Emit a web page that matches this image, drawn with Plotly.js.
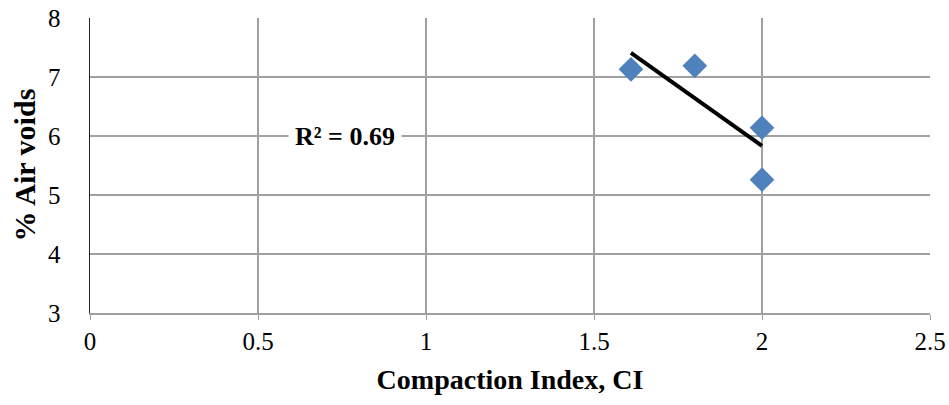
<!DOCTYPE html>
<html>
<head>
<meta charset="utf-8">
<script src="https://cdn.plot.ly/plotly-3.0.1.min.js"></script>
<style>html,body{margin:0;padding:0;background:#fff;}#chart{width:949px;height:405px;}</style>
</head>
<body>
<div id="chart"></div>
<script>
const compactionIndex = [1.61, 1.80, 2.00, 2.00];
const airVoids = [7.13, 7.19, 6.14, 5.26];
const xTickVals = [0, 0.5, 1, 1.5, 2, 2.5];
const xTickText = ['0', '0.5', '1', '1.5', '2', '2.5'];
const yTickVals = [3, 4, 5, 6, 7, 8];
const yTickText = ['3', '4', '5', '6', '7', '8'];
const xTitle = 'Compaction Index, CI';
const yTitle = '% Air voids';
const rSquaredLabel = 'R² = 0.69';
const rSquaredPos = [0.76, 6.0];

// linear least-squares trendline from the data
const n = compactionIndex.length;
const mx = compactionIndex.reduce((a, b) => a + b, 0) / n;
const my = airVoids.reduce((a, b) => a + b, 0) / n;
let sxy = 0, sxx = 0;
for (let i = 0; i < n; i++) {
  sxy += (compactionIndex[i] - mx) * (airVoids[i] - my);
  sxx += (compactionIndex[i] - mx) ** 2;
}
const slope = sxy / sxx;
const intercept = my - slope * mx;
const xMin = Math.min(...compactionIndex), xMax = Math.max(...compactionIndex);
const trendX = [xMin, xMax];
const trendY = trendX.map(x => intercept + slope * x);

const font = 'Liberation Serif, Times New Roman, serif';

const data = [
  {
    x: trendX, y: trendY, type: 'scatter', mode: 'lines',
    line: {color: '#000000', width: 4}, hoverinfo: 'skip', showlegend: false
  },
  {
    x: compactionIndex, y: airVoids, type: 'scatter', mode: 'markers',
    marker: {symbol: 'diamond', size: 19, color: '#4F81BD'}, showlegend: false
  }
];

const layout = {
  width: 949, height: 405,
  margin: {l: 90, r: 19, t: 18, b: 92},
  paper_bgcolor: '#ffffff', plot_bgcolor: '#ffffff',
  font: {family: font, color: '#000000'},
  xaxis: {
    range: [0, 2.5], tickmode: 'array', tickvals: xTickVals, ticktext: xTickText,
    showgrid: true, gridcolor: '#a0a0a0', gridwidth: 1.3,
    zeroline: false, showline: true, linecolor: '#a0a0a0', linewidth: 1.8,
    ticks: 'outside', ticklen: 5, tickcolor: '#a0a0a0',
    tickfont: {family: font, size: 25, color: '#000'},
    title: {text: '<b>' + xTitle + '</b>', font: {family: font, size: 28, color: '#000'}, standoff: 16},
    automargin: false, fixedrange: true
  },
  yaxis: {
    range: [3, 8], tickmode: 'array', tickvals: yTickVals, ticktext: yTickText,
    showgrid: true, gridcolor: '#a0a0a0', gridwidth: 1.3,
    zeroline: false, showline: true, linecolor: '#222222', linewidth: 1.5,
    ticks: 'outside', ticklen: 23, tickcolor: 'rgba(255,255,255,0)',
    tickfont: {family: font, size: 25, color: '#000'},
    automargin: false, fixedrange: true
  },
  yaxis2: {
    range: [3, 8], overlaying: 'y', side: 'left', tickmode: 'array', tickvals: yTickVals,
    showticklabels: false, showgrid: false, zeroline: false, showline: false,
    ticks: 'outside', ticklen: 8, tickcolor: '#444', tickwidth: 1.3,
    automargin: false, fixedrange: true
  },
  annotations: [
    {
      x: rSquaredPos[0], y: rSquaredPos[1], xref: 'x', yref: 'y',
      text: '<b>' + rSquaredLabel + '</b>', showarrow: false,
      font: {family: font, size: 26, color: '#000'},
      bgcolor: '#ffffff', borderpad: 6
    },
    {
      x: (24 - 90) / 840, y: 0.5, xref: 'paper', yref: 'paper',
      xanchor: 'center', yanchor: 'middle', textangle: -90,
      text: '<b>' + yTitle + '</b>', showarrow: false,
      font: {family: font, size: 30, color: '#000'}
    }
  ]
};

Plotly.newPlot('chart', data, layout, {displayModeBar: false, staticPlot: true});
</script>
</body>
</html>
